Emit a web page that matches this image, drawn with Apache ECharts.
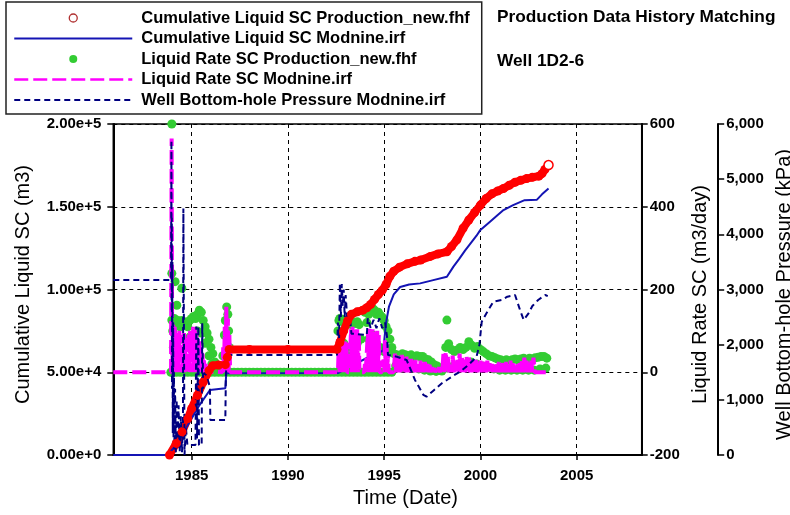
<!DOCTYPE html>
<html><head><meta charset="utf-8">
<script src="https://cdn.jsdelivr.net/npm/echarts@6/dist/echarts.min.js"></script>
<style>html,body{margin:0;padding:0;background:#fff}#c{width:790px;height:515px}</style>
</head><body><div id="c"></div>
<script>
// ---------------- data ----------------
const seriesNames = [
  'Cumulative Liquid SC Production_new.fhf',
  'Cumulative Liquid SC Modnine.irf',
  'Liquid Rate SC Production_new.fhf',
  'Liquid Rate SC Modnine.irf',
  'Well Bottom-hole Pressure Modnine.irf'
];
const titleLines = ['Production Data History Matching', 'Well 1D2-6'];
const xTickYears = [1985, 1990, 1995, 2000, 2005];
const xRange = [1980.93, 2008.38];

// Cumulative liquid, observed (m3)
const cumObs = [
  [1983.85,0],[1984.2,7000],[1984.5,14000],[1984.8,22000],[1985.0,28000],[1985.3,36000],
  [1985.6,44000],[1985.9,51000],[1986.1,54000],[1986.4,54400],[1986.75,54600],[1986.85,59000],
  [1986.95,63800],[1988.0,63800],[1990.0,63800],[1992.55,63900],[1992.7,68000],[1992.9,75000],
  [1993.1,81000],[1993.3,85000],[1993.6,86500],[1993.9,87500],[1994.1,89000],[1994.3,91000],
  [1994.5,94000],[1994.7,97000],[1994.9,99500],[1995.1,103000],[1995.3,108000],[1995.5,111000],
  [1995.8,113500],[1996.2,115500],[1996.6,117000],[1996.9,117800],[1997.4,120000],[1997.8,121500],
  [1998.26,122800],[1998.5,126000],[1998.78,130000],[1999.1,137000],[1999.4,142000],[1999.7,146500],
  [2000.0,151000],[2000.3,155000],[2000.6,157800],[2000.9,159500],[2001.2,161000],[2001.5,163000],
  [2001.8,164800],[2002.1,166000],[2002.4,167000],[2002.7,167800],[2003.04,168500],[2003.2,170000],
  [2003.35,172500],[2003.54,175200]
];
// Cumulative liquid, simulated (m3)
const cumSim = [
  [1980.93,0],[1983.75,0],[1984.2,6000],[1984.6,14000],[1985.0,22000],[1985.4,30000],[1985.95,39300],
  [1986.75,40300],[1986.8,49400],[1992.6,49500],[1993.0,52000],[1993.5,55000],[1994.0,58000],
  [1994.5,61000],[1994.95,63000],[1995.1,80000],[1995.25,89600],[1995.5,97000],[1995.83,101500],
  [1996.3,103000],[1996.87,103700],[1997.5,105500],[1998.26,107700],[1998.6,113800],[1998.9,118500],
  [1999.2,123500],[1999.5,128000],[1999.8,132500],[2000.0,136000],[2000.5,141000],[2000.9,145000],
  [2001.2,148000],[2001.7,151000],[2002.3,154000],[2002.94,154300],[2003.2,157500],[2003.54,161000]
];
// Liquid rate, observed (m3/day)
const rateObs = [
  [1983.92,0],[1983.97,600],[1983.97,239],[1984.14,219],[1984.49,203],[1984.23,162],[1983.97,126],
  [1984.02,100],[1984.05,60],
  [1984.1,130],[1984.2,120],[1984.3,125],[1984.4,110],[1984.5,125],[1984.6,115],[1984.7,120],
  [1984.8,110],[1984.9,125],[1985.0,130],[1985.1,135],[1985.2,130],[1985.3,140],[1985.4,150],
  [1985.5,145],[1985.6,125],[1985.7,110],[1985.8,95],[1985.9,80],[1986.0,60],[1986.1,45],[1986.2,25],
  [1984.1,70],[1984.3,50],[1984.5,80],[1984.7,60],[1984.9,85],[1985.1,90],[1985.3,100],[1985.5,95],
  [1985.7,70],[1985.9,40],[1986.05,20],
  [1986.62,40],[1986.7,90],[1986.75,125],[1986.82,158],[1986.88,140],[1986.92,100],[1986.96,60],
  [1984.0,0],[1984.2,0],[1984.4,0],[1984.6,0],[1984.8,0],[1985.0,0],[1985.2,0],[1985.4,0],[1985.6,0],
  [1985.8,0],[1986.0,0],[1986.2,0],[1986.4,0],[1986.6,0],[1986.8,0],[1987.0,0],[1987.2,0],[1987.4,0],
  [1987.6,0],[1987.8,0],[1988.0,0],[1988.2,0],[1988.4,0],[1988.6,0],[1988.8,0],[1989.0,0],[1989.2,0],
  [1989.4,0],[1989.6,0],[1989.8,0],[1990.0,0],[1990.2,0],[1990.4,0],[1990.6,0],[1990.8,0],[1991.0,0],
  [1991.2,0],[1991.4,0],[1991.6,0],[1991.8,0],[1992.0,0],[1992.2,0],[1992.4,0],[1992.6,0],[1992.8,0],
  [1993.0,0],[1993.2,0],[1993.4,0],[1993.6,0],[1993.8,0],[1994.0,0],[1994.2,0],[1994.4,0],[1994.6,0],
  [1994.8,0],[1995.0,0],[1995.2,0],[1995.4,0],
  [1992.6,100],[1992.65,125],[1992.7,130],[1992.8,128],[1992.9,120],[1993.0,125],[1993.1,60],
  [1993.2,40],[1993.3,115],[1993.4,120],[1993.5,118],[1993.6,122],[1993.7,115],[1993.8,80],
  [1993.9,150],[1994.0,145],[1994.1,120],[1994.2,140],[1994.3,158],[1994.4,155],[1994.5,150],
  [1994.6,140],[1994.7,145],[1994.8,138],[1994.9,133],[1995.0,125],[1995.1,110],[1995.2,100],
  [1995.3,80],[1995.4,60],
  [1992.7,60],[1992.9,70],[1993.4,60],[1993.6,70],[1994.2,80],[1994.4,90],[1994.6,70],[1994.8,60],
  [1995.0,50],[1995.2,50],
  [1995.5,45],[1995.65,42],[1995.8,40],[1995.95,45],[1996.1,42],[1996.25,40],[1996.4,42],[1996.55,38],
  [1996.7,40],[1996.85,38],[1997.0,38],[1997.15,32],[1997.3,30],[1997.45,25],[1997.6,18],[1997.75,15],
  [1997.9,10],[1998.05,8],[1998.2,60],[1998.26,126],[1998.35,69],[1998.5,55],[1998.65,50],[1998.8,54],
  [1998.95,60],[1999.1,55],[1999.25,60],[1999.4,74],[1999.55,65],[1999.7,58],[1999.85,62],[2000.0,55],
  [2000.15,50],[2000.3,45],[2000.45,40],[2000.6,38],[2000.75,35],[2000.9,32],[2001.05,30],[2001.2,28],
  [2001.35,30],[2001.5,28],[2001.65,30],[2001.8,32],[2001.95,30],[2002.1,32],[2002.25,34],[2002.4,30],
  [2002.55,34],[2002.7,32],[2002.85,35],[2003.0,36],[2003.15,38],[2003.3,38],[2003.45,34],
  [1995.6,15],[1995.9,10],[1996.2,12],[1996.5,10],[1996.8,8],[1997.1,5],[1997.4,3],[1997.7,2],
  [1998.0,3],[1998.3,10],[1998.6,15],[1998.9,20],[1999.2,15],[1999.5,25],[1999.8,20],[2000.1,15],
  [2000.4,12],[2000.7,8],[2001.0,5],[2001.3,5],[2001.6,5],[2001.9,5],[2002.2,5],[2002.5,5],
  [2002.8,5],[2003.1,8],[2003.4,10]
];
// Liquid rate, simulated (m3/day): fixed points and on/off cycles (cycle start year, cycle length, peak heights)
const rateSimLead = [[1980.93,0],[1983.93,0],[1983.96,565],[1983.99,0]];
const rateSimCycles = [
  {start:1984.0, step:0.08, peaks:[115,110,95,80,100,90,60,95,85,70,95,100,90,110,105,100,80,75,60,45,30,20,12,8,5,3,2]},
  {start:1986.6, step:0.08, peaks:[60,110,158,130,90]},
  {start:1992.6, step:0.08, peaks:[60,78,75,70,78,72,0,0,105,110,100,108,104,95,0,0,0,20,0,100,105,102,104,98,96,100,90,0,0,30,78,70,45]},
  {start:1995.5, step:0.12, peaks:[45,40,38,42,35,38,30,32,28,30,25,28,22,25,20,18,12,10,8,12,10,45,50,40,15,40,20,30,45,35,30,40,35,30,25,30,20,28,30,25,28,22,20,15,20,25,22,28,25,20,28,22,15,20,22,30,35,28,25,30,35]}
];
const rateSimTail = [[2003.6,0]];
// Well bottom-hole pressure, simulated (kPa)
const bhp = [
  [1980.93,3170],[1983.93,3170],[1983.95,5700],[1983.96,2600],[1983.97,4300],[1983.98,1200],[1984.0,3500],
  [1984.02,400],[1984.04,2400],[1984.06,200],[1984.08,1500],[1984.11,100],[1984.14,1200],[1984.18,50],
  [1984.22,1000],[1984.27,100],[1984.32,900],[1984.38,50],[1984.44,700],[1984.5,50],[1984.55,600],
  [1984.57,4470],[1984.62,4470],[1984.63,0],[1984.7,500],[1984.78,180],[1985.2,180],[1985.24,2330],
  [1985.28,300],[1985.35,2330],[1985.38,180],[1985.52,180],[1985.55,2390],[1985.6,1200],[1985.7,1500],
  [1985.95,1240],[1985.97,634],[1986.75,634],[1986.78,1480],[1986.88,1813],[1992.55,1813],[1992.6,2400],
  [1992.65,1900],[1992.7,3110],[1992.75,2500],[1992.8,3100],[1992.85,2700],[1992.9,3000],[1992.95,2500],
  [1993.0,2900],[1993.1,2400],[1993.2,2600],[1993.3,2200],[1993.4,2175],[1994.1,2175],[1994.15,2480],
  [1994.3,2300],[1994.45,2450],[1994.6,2300],[1994.75,2480],[1994.9,2300],[1995.05,2400],[1995.15,2144],
  [1995.2,1813],[1995.66,1782],[1996.17,1722],[1996.6,1360],[1997.04,1088],[1997.2,1057],[1997.6,1180],
  [1998.0,1300],[1998.26,1360],[1998.6,1440],[1998.95,1510],[1999.4,1640],[1999.8,1782],[1999.95,2000],
  [2000.07,2416],[2000.3,2560],[2000.67,2779],[2001.1,2810],[2001.4,2870],[2001.8,2900],[2002.06,2628],
  [2002.25,2447],[2002.33,2447],[2002.5,2568],[2002.7,2700],[2003.0,2810],[2003.37,2900],[2003.5,2880]
];

// ---------------- build ----------------
const rateSim = rateSimLead.slice();
rateSimCycles.forEach(c => {
  c.peaks.forEach((p, i) => {
    const t = c.start + i * c.step;
    rateSim.push([+t.toFixed(4), 0]);
    rateSim.push([+(t + c.step / 2).toFixed(4), p]);
  });
  rateSim.push([+(c.start + c.peaks.length * c.step).toFixed(4), 0]);
});
rateSimTail.forEach(p => rateSim.push(p));

const cumObsData = cumObs.map((p, i) => i === cumObs.length - 1
  ? {value: p, itemStyle: {color: '#ffffff', borderColor: '#ff0000', borderWidth: 1.5}}
  : p);

const FONT = '"Liberation Sans", Arial, sans-serif';
const tickLabel = {fontFamily: FONT, fontWeight: 'bold', fontSize: 15, color: '#000'};
const nameStyle = {fontFamily: FONT, fontSize: 20, color: '#000'};
const hideSym = {opacity: 0};

const chart = echarts.init(document.getElementById('c'), null, {renderer: 'canvas'});
chart.setOption({
  animation: false,
  backgroundColor: '#fff',
  title: [
    {text: titleLines[0], left: 497, top: 9, padding: 0,
     textStyle: {fontFamily: FONT, fontWeight: 'bold', fontSize: 17.3, color: '#000'}},
    {text: titleLines[1], left: 497, top: 53, padding: 0,
     textStyle: {fontFamily: FONT, fontWeight: 'bold', fontSize: 17.3, color: '#000'}}
  ],
  legend: {
    orient: 'vertical', left: 6, top: 2,
    padding: [5.75, 12, 3.75, 7],
    itemWidth: 118, itemHeight: 8, itemGap: 0,
    borderColor: '#222', borderWidth: 1.5,
    selectedMode: false,
    textStyle: {fontFamily: FONT, fontWeight: 'bold', fontSize: 16.5, color: '#000', lineHeight: 20.5, padding: [0,0,0,4]},
    data: [
      {name: seriesNames[0], icon: 'circle', itemStyle: {color: '#fff', borderColor: '#b03030', borderWidth: 1.3}},
      {name: seriesNames[1], itemStyle: hideSym},
      {name: seriesNames[2]},
      {name: seriesNames[3], itemStyle: hideSym, lineStyle: {width: 2.5}},
      {name: seriesNames[4], itemStyle: hideSym}
    ]
  },
  grid: {left: 113.3, top: 124, width: 528.4, height: 331, show: true, borderColor: '#000', borderWidth: 1.5,
         outerBoundsMode: 'none'},
  xAxis: {
    type: 'value', min: xRange[0], max: xRange[1],
    name: 'Time (Date)', nameLocation: 'middle', nameGap: 33,
    nameTextStyle: Object.assign({}, nameStyle, {padding: [0, 0, 0, 56]}),
    axisLine: {show: true, lineStyle: {color: '#000', width: 2}},
    axisTick: {show: true, length: 5, customValues: xTickYears, lineStyle: {color: '#000', width: 1.5}},
    axisLabel: Object.assign({}, tickLabel, {margin: 13, customValues: xTickYears, formatter: v => String(v)}),
    splitLine: {show: true, lineStyle: {color: '#000', type: [4, 4], width: 1}}
  },
  yAxis: [
    {
      type: 'value', min: 0, max: 200000, interval: 50000, position: 'left',
      name: 'Cumulative Liquid SC (m3)', nameLocation: 'middle', nameGap: 80, nameRotate: 90,
      nameTextStyle: Object.assign({}, nameStyle, {padding: [0, 0, 0, 10]}),
      axisLine: {show: true, lineStyle: {color: '#000', width: 2}},
      axisTick: {show: true, length: 6, lineStyle: {color: '#000', width: 1.5}},
      axisLabel: Object.assign({}, tickLabel, {margin: 12, formatter: v => v.toExponential(2)}),
      splitLine: {show: true, lineStyle: {color: '#000', type: [4, 4], width: 1}}
    },
    {
      type: 'value', min: -200, max: 600, interval: 200, position: 'right',
      name: 'Liquid Rate SC (m3/day)', nameLocation: 'middle', nameGap: 46, nameRotate: 90,
      nameTextStyle: Object.assign({}, nameStyle, {padding: [0, 10, 0, 0]}),
      axisLine: {show: true, lineStyle: {color: '#000', width: 2}},
      axisTick: {show: true, length: 6, lineStyle: {color: '#000', width: 1.5}},
      axisLabel: Object.assign({}, tickLabel, {margin: 8}),
      splitLine: {show: false}
    },
    {
      type: 'value', min: 0, max: 6000, interval: 1000, position: 'right', offset: 76.5,
      name: 'Well Bottom-hole Pressure (kPa)', nameLocation: 'middle', nameGap: 52, nameRotate: 90,
      nameTextStyle: Object.assign({}, nameStyle, {padding: [0, 10, 0, 0]}),
      axisLine: {show: true, lineStyle: {color: '#000', width: 2}},
      axisTick: {show: true, length: 6, lineStyle: {color: '#000', width: 1.5}},
      axisLabel: Object.assign({}, tickLabel, {margin: 8, formatter: v => v.toLocaleString('en-US')}),
      splitLine: {show: false}
    }
  ],
  series: [
    {
      name: seriesNames[0], type: 'line', yAxisIndex: 0, data: cumObsData,
      symbol: 'circle', symbolSize: 9, showSymbol: true,
      itemStyle: {color: '#ff0000'}, lineStyle: {color: '#ff0000', width: 8},
      silent: true
    },
    {
      name: seriesNames[1], type: 'line', yAxisIndex: 0, data: cumSim,
      symbol: 'none', lineStyle: {color: '#1414b4', width: 2}, itemStyle: {color: '#1414b4'}, silent: true
    },
    {
      name: seriesNames[2], type: 'scatter', yAxisIndex: 1, data: rateObs,
      symbol: 'circle', symbolSize: 9, itemStyle: {color: '#33cc33', opacity: 1}, silent: true
    },
    {
      name: seriesNames[3], type: 'line', yAxisIndex: 1, data: rateSim,
      symbol: 'none', lineStyle: {color: '#ff00ff', width: 4, type: [14, 5]}, itemStyle: {color: '#ff00ff'}, silent: true
    },
    {
      name: seriesNames[4], type: 'line', yAxisIndex: 2, data: bhp,
      symbol: 'none', lineStyle: {color: '#000080', width: 2, type: [6, 4]}, itemStyle: {color: '#000080'}, silent: true
    }
  ]
});
</script>
</body></html>
